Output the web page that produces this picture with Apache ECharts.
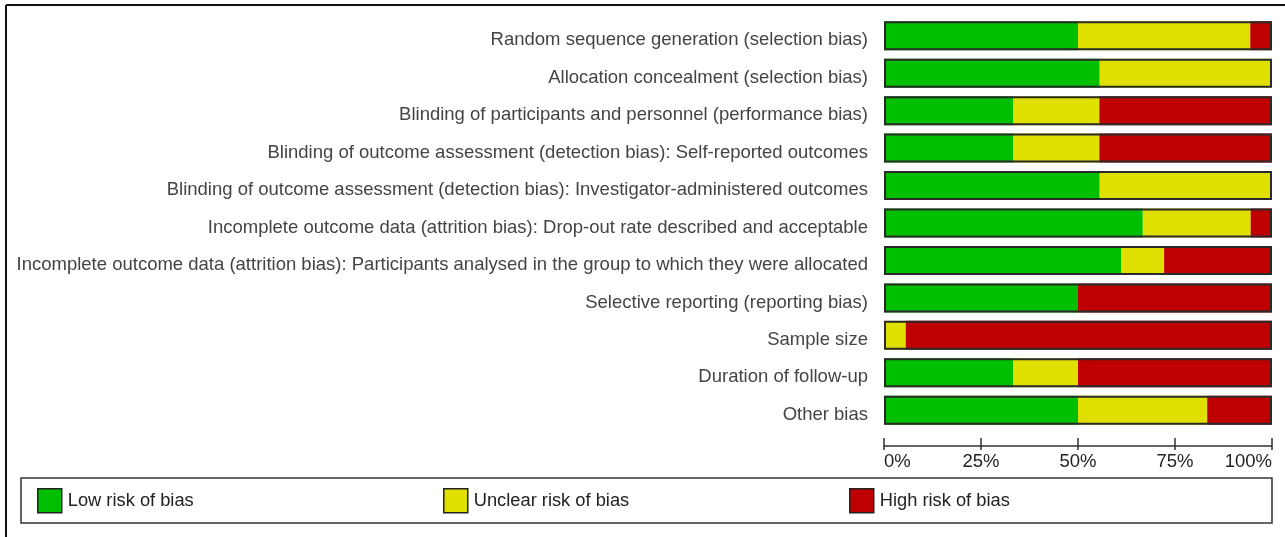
<!DOCTYPE html>
<html>
<head>
<meta charset="utf-8">
<script src="https://cdn.jsdelivr.net/npm/echarts@6/dist/echarts.min.js"></script>
<style>
  html, body { margin: 0; padding: 0; background: #fff; }
  #main { width: 1285px; height: 537px; }
</style>
</head>
<body>
<div id="main"></div>
<script>
var domains = [
    'Random sequence generation (selection bias)',
    'Allocation concealment (selection bias)',
    'Blinding of participants and personnel (performance bias)',
    'Blinding of outcome assessment (detection bias): Self-reported outcomes',
    'Blinding of outcome assessment (detection bias): Investigator-administered outcomes',
    'Incomplete outcome data (attrition bias): Drop-out rate described and acceptable',
    'Incomplete outcome data (attrition bias): Participants analysed in the group to which they were allocated',
    'Selective reporting (reporting bias)',
    'Sample size',
    'Duration of follow-up',
    'Other bias'
];
// percent of studies per judgement
var lowRisk = [50, 55.6, 33.3, 33.3, 55.6, 66.7, 61.1, 50, 0, 33.3, 50];
var unclearRisk = [44.4, 44.4, 22.2, 22.2, 44.4, 27.8, 11.1, 0, 5.6, 16.7, 33.3];
var highRisk = [5.6, 0, 44.4, 44.4, 0, 5.6, 27.8, 50, 94.4, 50, 16.7];
var xTicks = [0, 25, 50, 75, 100];

var fullBar = domains.map(function () { return 100; });

var myChart = echarts.init(document.getElementById('main'));

var legendBase = {
    top: 488,
    padding: 0,
    itemWidth: 24,
    itemHeight: 24,
    icon: 'rect',
    itemGap: 5,
    selectedMode: false,
    itemStyle: { borderColor: '#222', borderWidth: 1.5 },
    textStyle: { fontFamily: 'Liberation Sans', fontSize: 18.3, color: '#222', padding: [0, 0, 0, 1] }
};

var option = {
    animation: false,
    backgroundColor: '#fff',
    grid: { left: 884, right: 13, top: 17, height: 412, containLabel: false },
    xAxis: [{
        type: 'value',
        min: xTicks[0],
        max: xTicks[xTicks.length - 1],
        interval: 25,
        position: 'bottom',
        offset: 17,
        axisLine: { show: true, lineStyle: { color: '#333', width: 1.5 } },
        axisTick: { show: true, inside: true, length: 8, lineStyle: { color: '#333', width: 1.5 } },
        splitLine: { show: false },
        axisLabel: {
            formatter: '{value}%',
            fontFamily: 'Liberation Sans',
            fontSize: 18.5,
            color: '#222',
            margin: 6,
            alignMinLabel: 'left',
            alignMaxLabel: 'right'
        }
    }, {
        type: 'value',
        min: 0,
        max: 100,
        interval: 25,
        position: 'bottom',
        offset: 17,
        axisLine: { show: false },
        axisTick: { show: true, length: 4, lineStyle: { color: '#333', width: 1.5 } },
        splitLine: { show: false },
        axisLabel: { show: false }
    }],
    yAxis: {
        type: 'category',
        data: domains,
        inverse: true,
        axisLine: { show: false },
        axisTick: { show: false },
        axisLabel: {
            fontFamily: 'Liberation Sans',
            fontSize: 18.5,
            color: '#444',
            margin: 16,
            verticalAlign: 'top',
            lineHeight: 9
        }
    },
    legend: [
        Object.assign({ left: 37, data: ['Low risk of bias'] }, legendBase),
        Object.assign({ left: 443, data: ['Unclear risk of bias'] }, legendBase),
        Object.assign({ left: 849, data: ['High risk of bias'] }, legendBase)
    ],
    graphic: [
        { type: 'line', shape: { x1: 6, y1: 5, x2: 1285, y2: 5 }, style: { stroke: '#111', lineWidth: 2 } },
        { type: 'line', shape: { x1: 6, y1: 5, x2: 6, y2: 537 }, style: { stroke: '#111', lineWidth: 2 } },
        { type: 'rect', shape: { x: 21, y: 478, width: 1251, height: 45 }, style: { fill: 'none', stroke: '#333', lineWidth: 1.5 } }
    ],
    series: [{
        name: 'Low risk of bias',
        type: 'bar',
        stack: 'rob',
        barWidth: 29,
        itemStyle: { color: '#00bf00' },
        data: lowRisk
    }, {
        name: 'Unclear risk of bias',
        type: 'bar',
        stack: 'rob',
        barWidth: 29,
        itemStyle: { color: '#e0e000' },
        data: unclearRisk
    }, {
        name: 'High risk of bias',
        type: 'bar',
        stack: 'rob',
        barWidth: 29,
        itemStyle: { color: '#bf0000' },
        data: highRisk
    }, {
        name: 'frame',
        type: 'bar',
        barWidth: 29,
        barGap: '-100%',
        silent: true,
        itemStyle: { color: 'rgba(0,0,0,0)', borderColor: '#2a2a2a', borderWidth: 2 },
        data: fullBar,
        z: 3
    }]
};
myChart.setOption(option);
</script>
</body>
</html>
